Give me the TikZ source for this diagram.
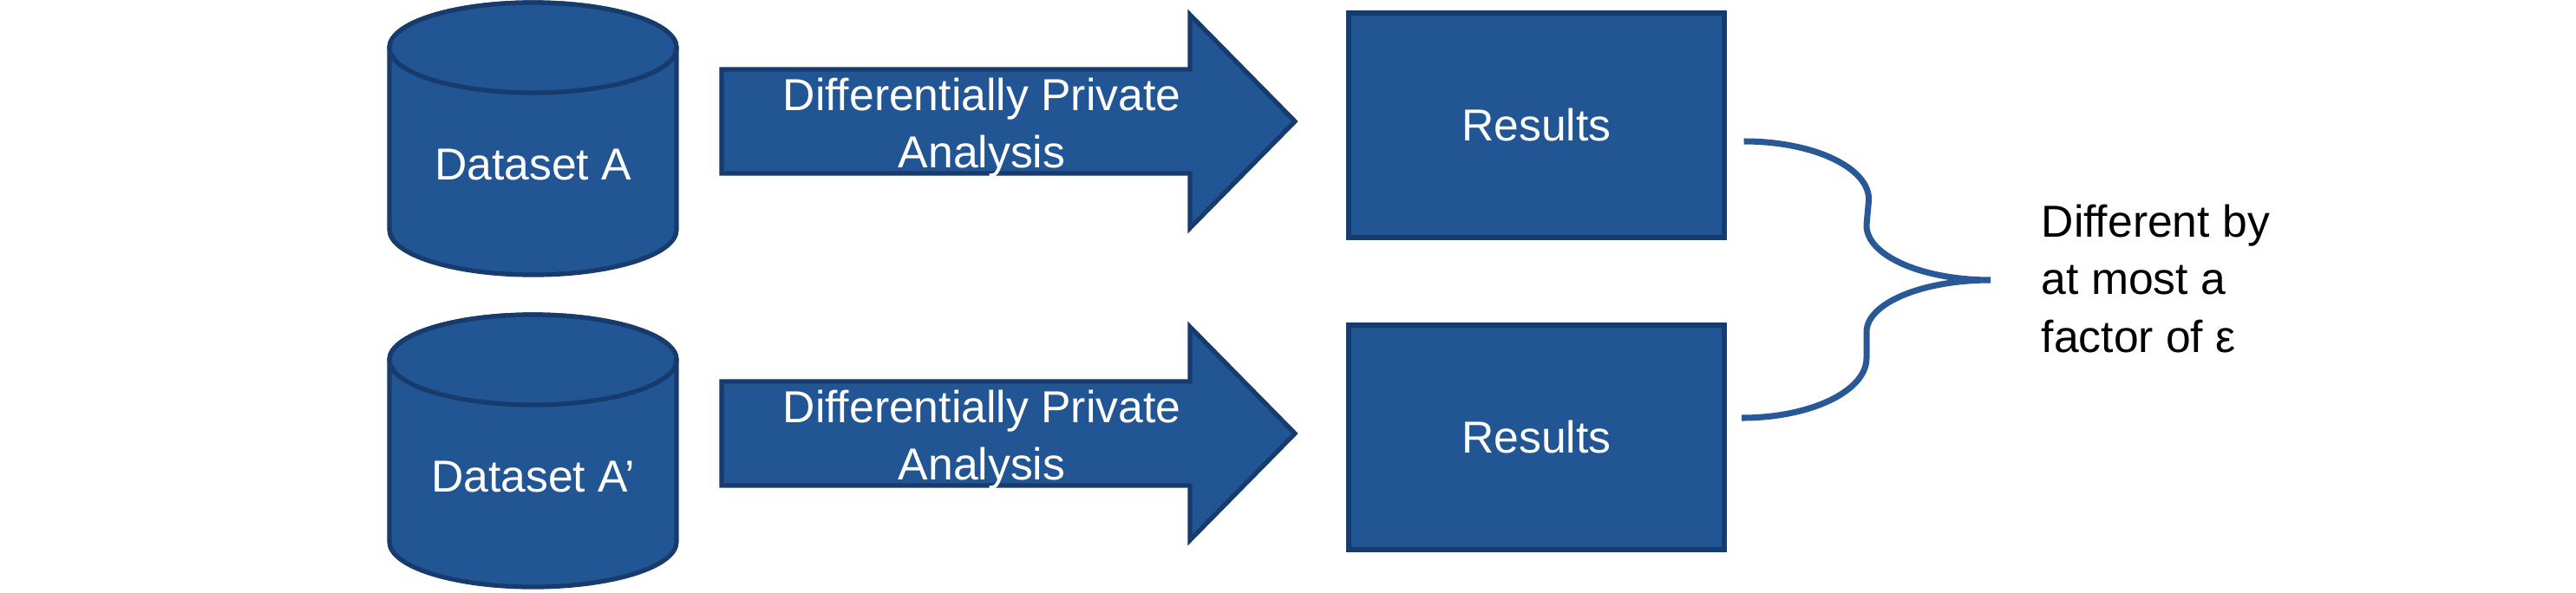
\documentclass[tikz,border=0pt]{standalone}
\usepackage{fontspec}
\setmainfont{Liberation Sans}
\usepackage{xcolor}
\usetikzlibrary{calc}
\definecolor{dpblue}{RGB}{34,85,147}
\definecolor{dpedge}{RGB}{23,59,108}
\definecolor{dpbrace}{RGB}{40,88,150}

\begin{document}
\begin{tikzpicture}[
  blk/.style={fill=dpblue,draw=dpedge,line width=1.5pt},
  wtxt/.style={text=white,font=\fontsize{14.7}{18.8}\selectfont,inner sep=0pt,align=center},
  btxt/.style={text=black,font=\fontsize{14.7}{18.8}\selectfont,inner sep=0pt,align=left},
  brace/.style={draw=dpbrace,line width=2pt}]
  \useasboundingbox (0,0) rectangle (29.70,6.83);
  % datasets
  \draw[blk] (4.49,6.28)--(4.49,4.18) arc[start angle=180,end angle=360,x radius=1.655,y radius=0.52]
    --(7.80,6.28) arc[start angle=0,end angle=180,x radius=1.655,y radius=0.52]--cycle;
  \draw[blk] (6.145,6.28) ellipse[x radius=1.655,y radius=0.52];
  \node[wtxt] (dsA) at (6.145,4.935) {Dataset A};
  \draw[blk] (4.49,2.68)--(4.49,0.58) arc[start angle=180,end angle=360,x radius=1.655,y radius=0.52]
    --(7.80,2.68) arc[start angle=0,end angle=180,x radius=1.655,y radius=0.52]--cycle;
  \draw[blk] (6.145,2.68) ellipse[x radius=1.655,y radius=0.52];
  \node[wtxt] (dsB) at (6.145,1.335) {Dataset A’};
  % analysis arrows
  \draw[blk] (8.32,6.03)--(13.72,6.03)--(13.72,6.66)--(14.93,5.43)--(13.72,4.20)--(13.72,4.83)--(8.32,4.83)--cycle;
  \node[wtxt] (dpa1) at (11.32,5.36) {Differentially Private\\Analysis};
  \draw[blk] (8.32,2.43)--(13.72,2.43)--(13.72,3.06)--(14.93,1.83)--(13.72,0.60)--(13.72,1.23)--(8.32,1.23)--cycle;
  \node[wtxt] (dpa2) at (11.32,1.76) {Differentially Private\\Analysis};
  % results
  \node[blk,wtxt,minimum width=4.33cm,minimum height=2.59cm] (res1) at (17.715,5.385) {Results};
  \node[blk,wtxt,minimum width=4.33cm,minimum height=2.59cm] (res2) at (17.715,1.785) {Results};
  % brace
  \coordinate (bt) at ($(res1.east)+(0.20,-0.185)$);
  \coordinate (tip) at (22.95,3.60);
  \draw[brace] (bt) arc[start angle=90,end angle=0,x radius=1.44,y radius=0.67]
    --(21.52,4.23) arc[start angle=180,end angle=270,x radius=1.43,y radius=0.63]
    arc[start angle=90,end angle=180,x radius=1.43,y radius=0.60]
    --(21.52,2.70) arc[start angle=0,end angle=-90,x radius=1.44,y radius=0.69];
  \node[btxt,anchor=west] (diff) at (23.53,3.615) {Different by\\at most a\\factor of ε};
\end{tikzpicture}
\end{document}
